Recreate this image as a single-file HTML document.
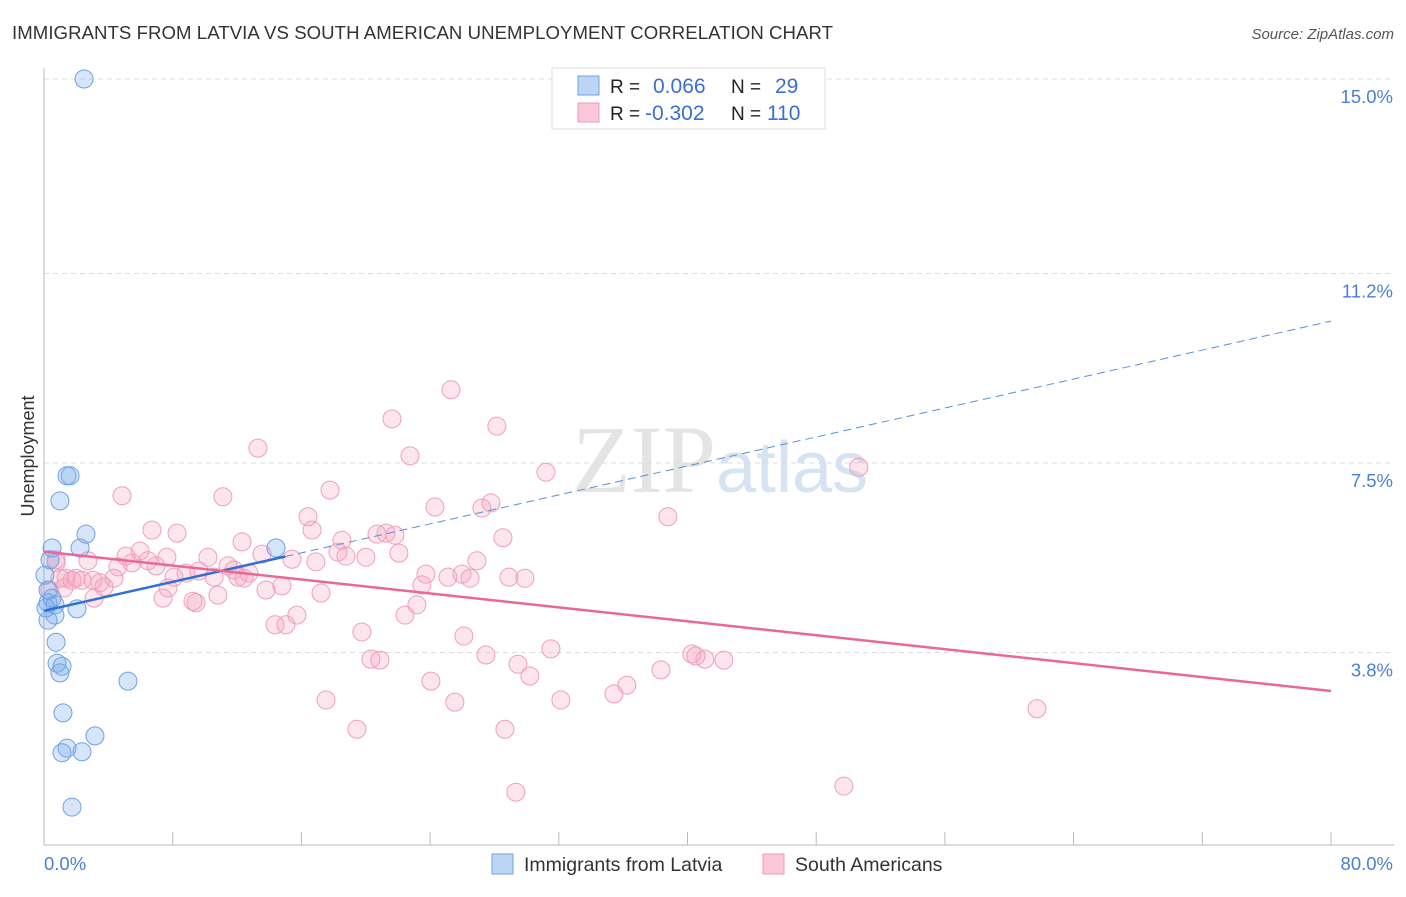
<!DOCTYPE html>
<html><head><meta charset="utf-8"><style>
body{margin:0;background:#fff;font-family:"Liberation Sans",sans-serif;}
svg text{font-family:"Liberation Sans",sans-serif;}
</style></head><body>
<svg id="chart" width="1406" height="892" xmlns="http://www.w3.org/2000/svg">
<text x="12" y="39" font-size="18.6" fill="#333" textLength="821">IMMIGRANTS FROM LATVIA VS SOUTH AMERICAN UNEMPLOYMENT CORRELATION CHART</text>
<text x="1394" y="39" font-size="15" fill="#555" font-style="italic" text-anchor="end">Source: ZipAtlas.com</text>
<text x="720" y="492" font-size="96" fill="#e4e4e4" text-anchor="middle" font-family="Liberation Serif"><tspan font-family="Liberation Serif">ZIP</tspan><tspan fill="#d6e3f3" font-family="Liberation Sans" font-size="72">atlas</tspan></text>
<text transform="translate(34,456) rotate(-90)" font-size="18" fill="#333" text-anchor="middle">Unemployment</text>
<g id="grid"></g><g id="axes"></g><g id="pts"></g><g id="lines"></g>
<g>
<rect x="552" y="68" width="273" height="61" fill="#fff" stroke="#ddd"/>
<rect x="578" y="76" width="21" height="19" fill="#bcd5f5" stroke="#6fa0e0"/>
<rect x="578" y="103" width="21" height="19" fill="#fcc8d8" stroke="#ee99b4"/>
<text x="610" y="93" font-size="19" fill="#222">R =</text><text x="653" y="93" font-size="21" fill="#3b6fd1">0.066</text>
<text x="731" y="93" font-size="19" fill="#222">N =</text><text x="775" y="93" font-size="21" fill="#3b6fd1">29</text>
<text x="610" y="120" font-size="19" fill="#222">R =</text><text x="645" y="120" font-size="21" fill="#3b6fd1">-0.302</text>
<text x="731" y="120" font-size="19" fill="#222">N =</text><text x="767" y="120" font-size="21" fill="#3b6fd1">110</text>
</g>
<g>
<rect x="492" y="854" width="21" height="20" fill="#bcd5f5" stroke="#6fa0e0"/>
<text x="524" y="871" font-size="19.5" fill="#333">Immigrants from Latvia</text>
<rect x="763" y="854" width="21" height="20" fill="#fcc8d8" stroke="#ee99b4"/>
<text x="795" y="871" font-size="19.5" fill="#333">South Americans</text>
</g>
</svg>
<script>
const yTicks=[15.0,11.2,7.5,3.8];
const yTickLabels=["15.0%","11.2%","7.5%","3.8%"];
const xTickLabels=["0.0%","80.0%"];
const latviaX=[2.49,1.43,1.62,0.99,2.61,0.50,2.24,14.42,0.37,0.06,0.50,0.25,0.68,2.05,0.68,0.25,0.75,0.81,1.12,0.99,5.22,1.18,3.17,1.43,1.12,2.36,1.74,0.25,0.12];
const latviaY=[15.0,7.25,7.25,6.76,6.11,5.84,5.84,5.84,5.61,5.31,4.86,4.77,4.73,4.65,4.53,4.43,4.00,3.59,3.53,3.40,3.24,2.62,2.17,1.93,1.84,1.86,0.78,5.02,4.67];
const saX=[25.30,21.63,28.15,13.30,22.75,31.20,50.65,4.85,11.12,17.78,24.30,27.78,27.22,16.41,38.78,6.71,8.27,16.66,21.26,21.81,20.70,28.53,12.31,18.52,5.97,7.64,10.19,13.55,15.41,16.90,18.27,18.77,20.01,22.06,26.91,2.73,5.10,5.47,4.60,6.46,6.96,8.83,11.44,11.81,12.74,9.63,23.74,25.98,25.11,26.48,28.90,29.89,0.75,0.99,1.37,1.74,1.99,2.36,3.05,3.48,3.73,4.35,8.08,10.57,12.06,12.43,14.79,23.49,13.80,17.22,1.24,3.11,7.40,7.71,10.81,9.26,9.45,23.18,22.44,15.72,14.36,15.04,19.76,26.10,27.47,31.51,20.32,20.88,29.46,40.27,40.52,41.08,42.26,38.35,30.20,24.05,36.23,35.43,17.53,25.54,32.13,61.72,19.45,28.65,49.72,29.33,0.75,0.37];
const saY=[8.93,8.36,8.22,7.79,7.64,7.32,7.42,6.86,6.84,6.97,6.64,6.72,6.62,6.45,6.45,6.19,6.13,6.19,6.13,6.09,6.11,6.04,5.96,5.99,5.78,5.66,5.66,5.72,5.62,5.57,5.76,5.68,5.66,5.74,5.59,5.59,5.68,5.55,5.47,5.59,5.49,5.35,5.49,5.41,5.35,5.39,5.33,5.33,5.27,5.25,5.27,5.25,5.55,5.25,5.25,5.21,5.25,5.21,5.21,5.16,5.08,5.25,5.27,5.27,5.27,5.25,5.10,5.12,5.02,4.96,5.06,4.86,4.86,5.06,4.92,4.80,4.77,4.73,4.53,4.53,4.34,4.34,4.20,4.12,3.75,3.87,3.67,3.65,3.57,3.77,3.73,3.67,3.65,3.46,3.34,3.24,3.16,2.99,2.87,2.83,2.87,2.70,2.30,2.30,1.19,1.07,5.61,5.02];
const NS="http://www.w3.org/2000/svg";
const X=v=>44+v*(1331-44)/80;
const Y=v=>79+(15-v)*51.2;
function mk(tag,attrs,parent){const e=document.createElementNS(NS,tag);for(const k in attrs)e.setAttribute(k,attrs[k]);document.getElementById(parent).appendChild(e);return e;}
yTicks.forEach((t,i)=>{
  const l=mk('line',{x1:44,x2:1394,y1:Y(t),y2:Y(t),stroke:'#ddd','stroke-dasharray':'5,4'},'grid');
  
  
  const tx=mk('text',{x:1393,y:Y(t)+24,'font-size':18.5,fill:'#4a7fd4','text-anchor':'end'},'axes');
  tx.textContent=yTickLabels[i];
  
  
});
const ax=mk('line',{x1:44,x2:44,y1:68,y2:845,stroke:'#bbb'},'axes');


const bx=mk('line',{x1:44,x2:1394,y1:845,y2:845,stroke:'#bbb'},'axes');


for(let i=0;i<=10;i++){const t=mk('line',{x1:X(i*8),x2:X(i*8),y1:832,y2:845,stroke:'#bbb'},'axes');
  
  }
const xl0=mk('text',{x:44,y:870,'font-size':18.5,fill:'#4a7fd4'},'axes');xl0.textContent=xTickLabels[0];


const xl1=mk('text',{x:1393,y:870,'font-size':18.5,fill:'#4a7fd4','text-anchor':'end'},'axes');xl1.textContent=xTickLabels[1];


saX.forEach((v,i)=>{const c=mk('circle',{cx:X(v),cy:Y(saY[i]),r:9,fill:'rgba(244,160,188,0.28)',stroke:'#ef9fbb','stroke-width':1},'pts');
  
  });
latviaX.forEach((v,i)=>{const c=mk('circle',{cx:X(v),cy:Y(latviaY[i]),r:9,fill:'rgba(120,170,235,0.3)',stroke:'#6ea2e2','stroke-width':1},'pts');
  
  });
function fit(xs,ys){const n=xs.length;let mx=0,my=0;xs.forEach((x,i)=>{mx+=x;my+=ys[i];});mx/=n;my/=n;let sxy=0,sxx=0;xs.forEach((x,i)=>{sxy+=(x-mx)*(ys[i]-my);sxx+=(x-mx)*(x-mx);});const b=sxy/sxx;return [my-b*mx,b];}
const [ba,bb]=fit(latviaX,latviaY);
const l1=mk('line',{x1:X(0),y1:Y(ba),x2:X(15),y2:Y(ba+bb*15),stroke:'#2f6fd6','stroke-width':2.5},'lines');


const l2=mk('line',{x1:X(15),y1:Y(ba+bb*15),x2:X(80),y2:Y(ba+bb*80),stroke:'#5a8fd8','stroke-width':1,'stroke-dasharray':'8,5'},'lines');


const [pa,pb]=fit(saX,saY);
const l3=mk('line',{x1:X(0),y1:Y(pa),x2:X(80),y2:Y(pa+pb*80),stroke:'#e8689a','stroke-width':2.5},'lines');


</script>
</body></html>
